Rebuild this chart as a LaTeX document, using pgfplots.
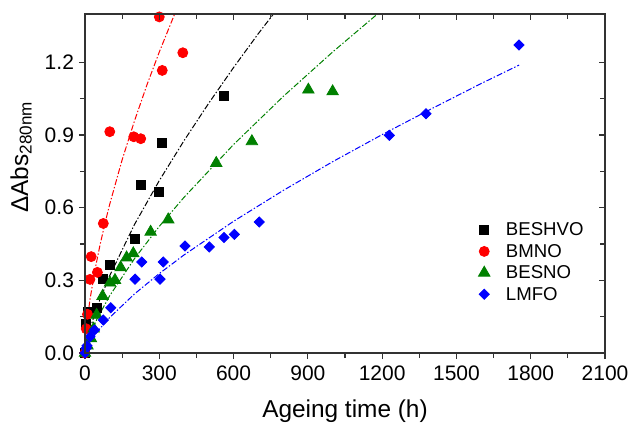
\documentclass[border=0pt]{standalone}
\usepackage{fontspec}
\setmainfont{Liberation Sans}
\usepackage{pgfplots}
\pgfplotsset{compat=1.18}
\definecolor{myred}{RGB}{255,0,0}
\definecolor{mygreen}{RGB}{0,128,0}
\definecolor{myblue}{RGB}{0,0,255}
\definecolor{axgray}{RGB}{50,50,50}
\begin{document}
\begin{tikzpicture}
\useasboundingbox (0,0) rectangle (315pt,212.5pt);
\pgfplotsset{
  common/.style={
    at={(42.5pt,36pt)}, anchor=south west,
    scale only axis, width=260pt, height=169.5pt,
    xmin=0, xmax=2100, ymin=0, ymax=1.4,
    xtick={0,300,600,900,1200,1500,1800,2100},
    ytick={0,0.3,0.6,0.9,1.2},
    minor x tick num=1, minor y tick num=1,
    major tick length=3pt, minor tick length=2.5pt,
    axis line style={axgray, line width=0.75pt},
    every tick/.style={axgray, line width=0.6pt},
  },
  fitline/.style={line width=0.5pt, dash pattern=on 3pt off 1pt on 0.7pt off 1pt, forget plot},
}
\begin{axis}[common,
  xtick pos=left, ytick pos=left, tick align=outside,
  scaled ticks=false,
  /pgf/number format/assume math mode=true,
  /pgf/number format/1000 sep={},
  yticklabel style={/pgf/number format/fixed, /pgf/number format/fixed zerofill, /pgf/number format/precision=1, xshift=1pt},
  ticklabel style={font=\fontsize{10.5}{12}\selectfont},
  xlabel={Ageing time (h)},
  ylabel={ΔAbs\rlap{\textsubscript{280nm}}},
  label style={font=\fontsize{12.2}{15}\selectfont},
  xlabel style={at={(axis description cs:0.5,-0.1917)}, anchor=base},
  ylabel style={at={(axis description cs:-0.1096,0.5)}, anchor=base},
  legend style={at={(axis description cs:0.756,0.392)}, anchor=north west, draw=none, fill=none,
    inner sep=0pt,
    font=\fontsize{9.3}{11}\selectfont,
    nodes={inner sep=1pt, text height=6.7pt, text depth=0.8pt}, row sep=1.2pt,
    /tikz/every odd column/.append style={column sep=7pt}},
  legend cell align=left,
]
% fit lines
\addplot[fitline, myred] coordinates {(0,0)(1,0.032)(2,0.050)(5,0.090)(10,0.141)(20,0.220)(40,0.342)(60,0.443)(80,0.533)(100,0.615)(150,0.798)(200,0.959)(250,1.107)(300,1.243)(362,1.40)};
\addplot[fitline, black] coordinates {(0,0)(5,0.036)(20,0.099)(50,0.194)(100,0.320)(200,0.531)(300,0.712)(400,0.877)(500,1.032)(600,1.179)(700,1.319)(761,1.40)};
\addplot[fitline, mygreen] coordinates {(0,0)(5,0.027)(20,0.074)(50,0.144)(100,0.237)(200,0.390)(300,0.523)(400,0.643)(600,0.861)(800,1.059)(1000,1.243)(1181,1.40)};
\addplot[fitline, myblue] coordinates {(0,0)(5,0.017)(20,0.046)(50,0.089)(100,0.147)(200,0.244)(300,0.328)(400,0.405)(600,0.544)(800,0.671)(1000,0.790)(1200,0.902)(1400,1.009)(1600,1.113)(1753,1.189)};
% data
\addplot[only marks, mark=square*, mark size=2.25pt, black] coordinates {(0,0)(5,0.12)(11,0.17)(50,0.187)(74,0.304)(100,0.363)(200,0.473)(224,0.696)(299,0.666)(312,0.869)(559,1.061)};
\addlegendentry{BESHVO}
\addplot[only marks, mark=*, mark size=2.5pt, myred, mark options={draw=myred, fill=myred}] coordinates {(0,0)(5,0.10)(10,0.16)(20,0.304)(25,0.398)(50,0.333)(74,0.535)(100,0.914)(197,0.893)(225,0.885)(300,1.388)(312,1.167)(395,1.24)};
\addlegendentry{BMNO}
\addplot[only marks, mark=triangle*, mark size=3.3pt, mygreen] coordinates {(0,0)(10,0.03)(24,0.06)(35,0.10)(47,0.157)(71,0.235)(101,0.29)(121,0.301)(144,0.353)(168,0.394)(195,0.411)(265,0.50)(336,0.551)(530,0.784)(674,0.874)(902,1.087)(1000,1.08)};
\addlegendentry{BESNO}
\addplot[only marks, mark=square*, mark size=1.8pt, mark options={rotate=45}, myblue] coordinates {(0,0)(5,0.02)(8,0.03)(20,0.067)(38,0.095)(74,0.136)(104,0.187)(202,0.305)(229,0.376)(303,0.305)(316,0.376)(404,0.442)(502,0.438)(561,0.477)(603,0.49)(704,0.541)(1229,0.899)(1377,0.988)(1753,1.272)};
\addlegendentry{LMFO}
\end{axis}
\begin{axis}[common,
  xtick pos=right, ytick pos=right, tick align=inside,
  xticklabels={}, yticklabels={},
]
\end{axis}
\end{tikzpicture}
\end{document}
